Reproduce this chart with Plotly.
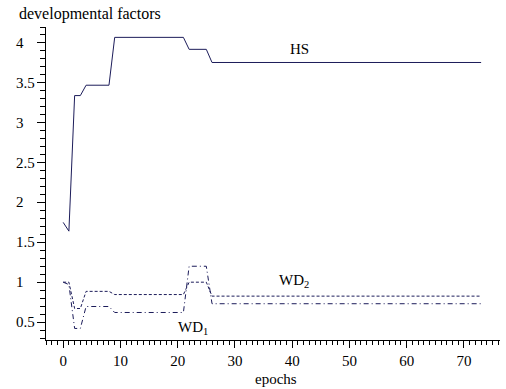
import plotly.graph_objects as go

epochs = list(range(0, 74))

hs_vals = [1.75, 1.64, 3.34, 3.34] + [3.47] * 5 + [4.07] * 13 + [3.92] * 4 + [3.755] * 48
wd2_vals = [1.0, 1.0, 0.67, 0.67] + [0.885] * 5 + [0.845] * 13 + [1.0] * 4 + [0.825] * 48
wd1_vals = [1.0, 0.97, 0.42, 0.42] + [0.695] * 5 + [0.62] * 13 + [1.2] * 4 + [0.73] * 48

y_ticks = [0.5, 1, 1.5, 2, 2.5, 3, 3.5, 4]
y_tick_text = ["0.5", "1", "1.5", "2", "2.5", "3", "3.5", "4"]
x_ticks = [0, 10, 20, 30, 40, 50, 60, 70]

color = "#1c1c5a"
font = "'Liberation Serif', 'Times New Roman', serif"
FS = 15
L, R, T, B = 46, 6, 27, 49
PW, PH = 506 - L - R, 389 - T - B

fig = go.Figure()
fig.add_trace(go.Scatter(x=epochs, y=hs_vals, mode="lines",
                         line=dict(color=color, width=1), name="HS"))
fig.add_trace(go.Scatter(x=epochs, y=wd2_vals, mode="lines",
                         line=dict(color=color, width=1, dash="3px,2px"), name="WD2"))
fig.add_trace(go.Scatter(x=epochs, y=wd1_vals, mode="lines",
                         line=dict(color=color, width=1, dash="5px,3px,1px,3px"), name="WD1"))

fig.update_layout(
    width=506, height=389,
    margin=dict(l=L, r=R, t=T, b=B, autoexpand=False),
    plot_bgcolor="white", paper_bgcolor="white",
    showlegend=False,
    font=dict(family=font, size=FS, color="black"),
    xaxis=dict(range=[-3, 76.3], tickvals=x_ticks, ticks="outside", ticklen=7,
               tickcolor="black", showline=True, linecolor="black", linewidth=1,
               showgrid=False, zeroline=False, automargin=False,
               tickfont=dict(family=font, size=FS, color="black"),
               minor=dict(dtick=1, tick0=0, ticks="outside", ticklen=4, tickcolor="black")),
    yaxis=dict(range=[0.275, 4.2], tickvals=y_ticks, showticklabels=False,
               ticks="outside", ticklen=8, tickcolor="black",
               showline=True, linecolor="black", linewidth=1,
               showgrid=False, zeroline=False, automargin=False,
               minor=dict(dtick=0.1, tick0=0, ticks="outside", ticklen=5, tickcolor="black")),
)

for v, t in zip(y_ticks, y_tick_text):
    fig.add_annotation(text=t, xref="paper", yref="y", x=(14 - L) / PW, y=v,
                       xanchor="left", yanchor="middle", showarrow=False,
                       font=dict(family=font, size=FS))

fig.add_annotation(text="developmental factors", xref="paper", yref="paper",
                   x=(17 - L) / PW, y=1 + (T - 14) / PH, xanchor="left", yanchor="middle",
                   showarrow=False, font=dict(family=font, size=16))
fig.add_annotation(text="epochs", xref="paper", yref="paper",
                   x=(276 - L) / PW, y=-(379 - (T + PH)) / PH, xanchor="center", yanchor="middle",
                   showarrow=False, font=dict(family=font, size=FS))
fig.add_annotation(text="HS", x=41.2, y=3.93, showarrow=False, font=dict(family=font, size=FS))
fig.add_annotation(text="WD<sub>2</sub>", x=40.3, y=1.01, showarrow=False, font=dict(family=font, size=FS))
fig.add_annotation(text="WD<sub>1</sub>", x=22.6, y=0.42, showarrow=False, font=dict(family=font, size=FS))

fig.write_html("out.html", config={"displayModeBar": False},
               post_script="document.body.style.margin='0';document.body.style.overflow='hidden';")
